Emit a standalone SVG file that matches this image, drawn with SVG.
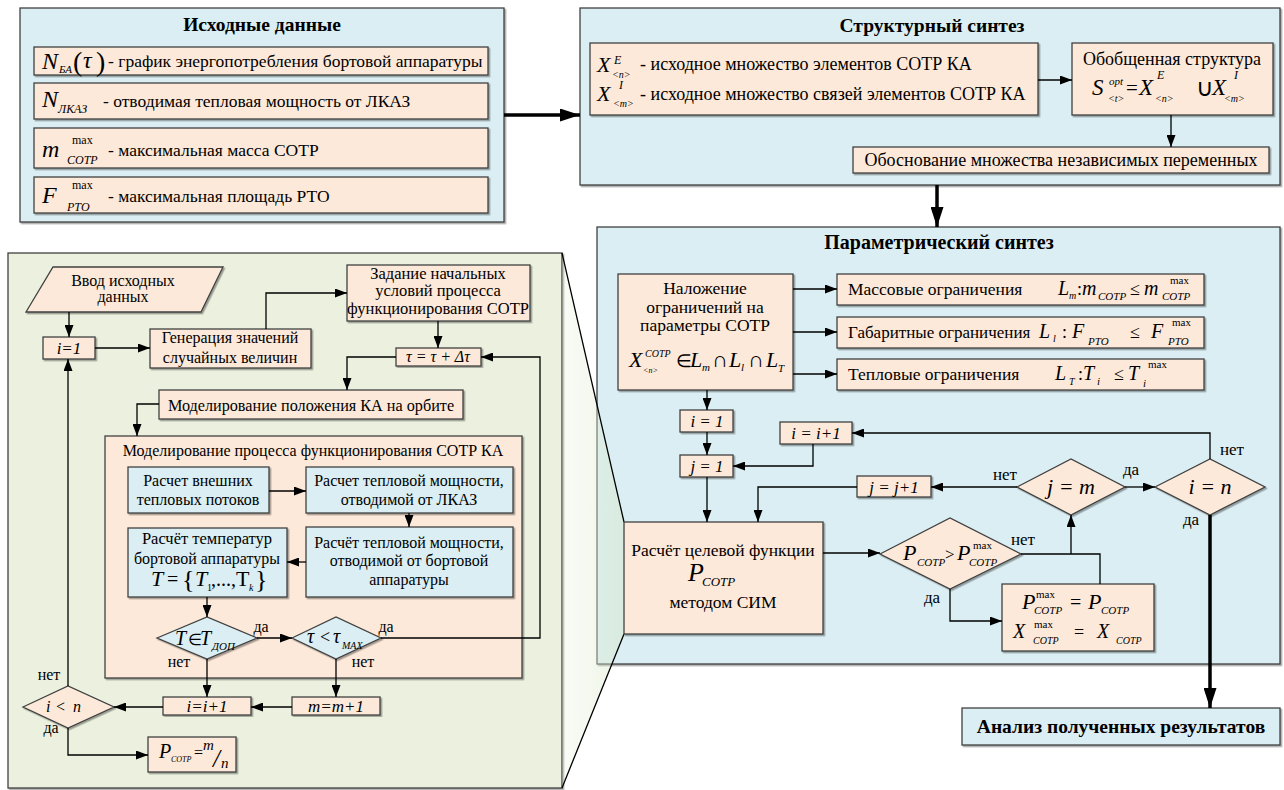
<svg xmlns="http://www.w3.org/2000/svg" width="1284" height="790" viewBox="0 0 1284 790" font-size="17">
<defs>
<style>
text{font-family:"Liberation Serif","Times New Roman",serif;fill:#000}
.c{text-anchor:middle}
.i{font-style:italic}
.b{font-weight:bold}
.bx{stroke:#404040;stroke-width:1.3;filter:url(#sh)}
.pe{fill:#FDE9D9}
.bl{fill:#DAEEF3}
.gr{fill:#EBF1DE}
.ln{fill:none;stroke:#000;stroke-width:1.3}
.ar{marker-end:url(#a)}
.th{fill:none;stroke:#000;stroke-width:3.5;marker-end:url(#A)}
</style>
<filter id="sh" x="-5%" y="-5%" width="110%" height="115%"><feDropShadow dx="1.5" dy="1.5" stdDeviation="0.7" flood-color="#000" flood-opacity="0.35"/></filter>
<marker id="a" markerWidth="12" markerHeight="9" refX="12" refY="4.5" orient="auto" markerUnits="userSpaceOnUse"><path d="M0,0L12,4.5L0,9z" fill="#000"/></marker>
<marker id="A" markerWidth="20" markerHeight="13" refX="20" refY="6.5" orient="auto" markerUnits="userSpaceOnUse"><path d="M0,0L20,6.5L0,13z" fill="#000"/></marker>
<linearGradient id="cg" x1="0" y1="0" x2="1" y2="0"><stop offset="0" stop-color="#EBF1DE" stop-opacity="0.3"/><stop offset="1" stop-color="#D8E8C8" stop-opacity="0.45"/></linearGradient>
</defs>

<!-- Исходные данные -->
<g id="src">
<rect class="bx bl" x="20" y="8" width="484" height="214"/>
<text class="c b" x="262" y="31" font-size="19.5">Исходные данные</text>
<rect class="bx pe" x="34" y="47" width="454" height="28"/>
<rect class="bx pe" x="34" y="83" width="454" height="36"/>
<rect class="bx pe" x="34" y="128" width="454" height="40"/>
<rect class="bx pe" x="34" y="177" width="454" height="36"/>
<text class="i" x="42" y="69" font-size="24">N</text>
<text class="i" x="59" y="73" font-size="11">БА</text>
<text x="73" y="71" font-size="28">(</text>
<text class="i" x="83" y="68" font-size="24">τ</text>
<text x="96" y="71" font-size="28">)</text>
<text x="108" y="67" font-size="17.5">- график энергопотребления бортовой аппаратуры</text>
<text class="i" x="42" y="107" font-size="24">N</text>
<text class="i" x="58" y="113" font-size="12">ЛКАЗ</text>
<text x="103" y="107" font-size="17.5">- отводимая тепловая мощность от ЛКАЗ</text>
<text class="i" x="42" y="157" font-size="24">m</text>
<text x="72" y="144" font-size="12">max</text>
<text class="i" x="67" y="164" font-size="12">СОТР</text>
<text x="108" y="156" font-size="17.5">- максимальная масса  СОТР</text>
<text class="i" x="42" y="203" font-size="24">F</text>
<text x="72" y="189" font-size="12">max</text>
<text class="i" x="67" y="211" font-size="12">РТО</text>
<text x="108" y="202" font-size="17.5">- максимальная площадь  РТО</text>
</g>

<!-- Структурный синтез -->
<g id="struct">
<rect class="bx bl" x="580" y="8" width="700" height="177"/>
<text class="c b" x="932" y="32" font-size="19.5">Структурный синтез</text>
</g>
<g id="sets">
<rect class="bx pe" x="590" y="43" width="448" height="72"/>
<text class="i" x="597" y="72" font-size="22">X</text>
<text class="i" x="614" y="64" font-size="12">E</text>
<text class="i" x="612" y="78" font-size="10">&lt;n&gt;</text>
<text x="640" y="70" font-size="18">- исходное множество элементов СОТР КА</text>
<text class="i" x="597" y="101" font-size="22">X</text>
<text class="i" x="619" y="89" font-size="12">I</text>
<text class="i" x="613" y="107" font-size="10">&lt;m&gt;</text>
<text x="640" y="100" font-size="18">- исходное множество связей элементов СОТР КА</text>
</g>
<g id="general">
<rect class="bx pe" x="1072" y="43" width="201" height="72"/>
<text class="c" x="1172" y="65" font-size="18">Обобщенная структура</text>
<text class="i" x="1092" y="95" font-size="23">S</text>
<text class="i" x="1109" y="85" font-size="11">opt</text>
<text class="i" x="1108" y="102" font-size="10">&lt;t&gt;</text>
<text x="1126" y="95" font-size="21">=</text>
<text class="i" x="1139" y="95" font-size="23">X</text>
<text class="i" x="1157" y="79" font-size="12">E</text>
<text class="i" x="1155" y="102" font-size="10">&lt;n&gt;</text>
<text x="1196" y="96" font-size="24">∪</text>
<text class="i" x="1212" y="95" font-size="23">X</text>
<text class="i" x="1234" y="79" font-size="12">I</text>
<text class="i" x="1224" y="102" font-size="10">&lt;m&gt;</text>
</g>
<g id="justify">
<rect class="bx pe" x="853" y="147" width="416" height="26"/>
<text class="c" x="1061" y="166" font-size="18">Обоснование множества независимых переменных</text>
</g>

<!-- Параметрический синтез -->
<g id="param">
<rect class="bx bl" x="597" y="227" width="683" height="437"/>
<text class="c b" x="939" y="249" font-size="20">Параметрический синтез</text>
</g>

<!-- Left green detail -->
<g id="detail">
<rect class="bx gr" x="8" y="253" width="554" height="535"/>
</g>

<!-- callout -->
<g id="callout">
<polygon points="562,253 624,522 624,634 562,788" fill="url(#cg)"/>
<path d="M562,253L624,522M624,634L562,788" stroke="#000" stroke-width="1.3" fill="none"/>
</g>

<g id="impose">
<rect class="bx pe" x="618" y="274" width="175" height="116"/>
<text class="c" x="705" y="294" font-size="17.5">Наложение</text>
<text class="c" x="705" y="313" font-size="17.5">ограничений на</text>
<text class="c" x="705" y="331" font-size="17.5">параметры СОТР</text>
<text class="i" x="629" y="367" font-size="22">X</text>
<text class="i" x="645" y="357" font-size="10">СОТР</text>
<text class="i" x="643" y="373" font-size="8">&lt;n&gt;</text>
<text x="676" y="367" font-size="18">∈</text>
<text class="i" x="690" y="367" font-size="22">L</text>
<text class="i" x="702" y="371" font-size="11">m</text>
<text x="712" y="367" font-size="22">∩</text>
<text class="i" x="729" y="367" font-size="22">L</text>
<text class="i" x="741" y="371" font-size="11">l</text>
<text x="748" y="367" font-size="22">∩</text>
<text class="i" x="766" y="367" font-size="22">L</text>
<text class="i" x="778" y="372" font-size="11">T</text>
</g>
<g id="mass">
<rect class="bx pe" x="837" y="274" width="367" height="31"/>
<text x="848" y="295" font-size="17.5">Массовые ограничения</text>
<text class="i" x="1058" y="295" font-size="20">L</text>
<text class="i" x="1069" y="299" font-size="10">m</text>
<text x="1077" y="295" font-size="18">:</text>
<text class="i" x="1082" y="295" font-size="20">m</text>
<text class="i" x="1098" y="300" font-size="11">СОТР</text>
<text x="1130" y="295" font-size="18">≤</text>
<text class="i" x="1144" y="295" font-size="20">m</text>
<text x="1170" y="284" font-size="11">max</text>
<text class="i" x="1162" y="300" font-size="11">СОТР</text>
</g>
<g id="size">
<rect class="bx pe" x="837" y="317" width="367" height="31"/>
<text x="848" y="338" font-size="17">Габаритные ограничения</text>
<text class="i" x="1039" y="338" font-size="20">L</text>
<text class="i" x="1053" y="342" font-size="10">l</text>
<text x="1062" y="338" font-size="18">:</text>
<text class="i" x="1072" y="338" font-size="20">F</text>
<text class="i" x="1088" y="345" font-size="11">РТО</text>
<text x="1130" y="338" font-size="18">≤</text>
<text class="i" x="1151" y="338" font-size="20">F</text>
<text x="1172" y="326" font-size="11">max</text>
<text class="i" x="1168" y="345" font-size="11">РТО</text>
</g>
<g id="heat">
<rect class="bx pe" x="837" y="359" width="367" height="31"/>
<text x="848" y="380" font-size="17.5">Тепловые ограничения</text>
<text class="i" x="1055" y="380" font-size="20">L</text>
<text class="i" x="1069" y="385" font-size="10">T</text>
<text x="1078" y="380" font-size="18">:</text>
<text class="i" x="1083" y="380" font-size="20">T</text>
<text class="i" x="1097" y="385" font-size="11">i</text>
<text x="1114" y="380" font-size="18">≤</text>
<text class="i" x="1128" y="380" font-size="20">T</text>
<text x="1148" y="368" font-size="11">max</text>
<text class="i" x="1143" y="387" font-size="11">i</text>
</g>
<g id="pi1"><rect class="bx pe" x="680" y="410" width="53" height="22"/><text class="c i" x="707" y="427">i = 1</text></g>
<g id="pj1"><rect class="bx pe" x="680" y="455" width="53" height="22"/><text class="c i" x="707" y="472">j = 1</text></g>
<g id="pii"><rect class="bx pe" x="780" y="422" width="72" height="22"/><text class="c i" x="816" y="439">i = i+1</text></g>
<g id="pjj"><rect class="bx pe" x="857" y="476" width="74" height="21"/><text class="c i" x="894" y="493">j = j+1</text></g>
<g id="calc">
<rect class="bx pe" x="624" y="522" width="199" height="112"/>
<text class="c" x="723" y="556" font-size="17.5">Расчёт целевой функции</text>
<text class="i" x="688" y="581" font-size="26">P</text>
<text class="i" x="702" y="586" font-size="13">СОТР</text>
<text class="c" x="723" y="608" font-size="17.5">методом СИМ</text>
</g>
<g id="dP">
<polygon class="bx pe" points="880,554 950,518 1021,554 950,589"/>
<text class="i" x="903" y="560" font-size="22">P</text>
<text class="i" x="917" y="566" font-size="11">СОТР</text>
<text x="945" y="560" font-size="17">&gt;</text>
<text class="i" x="957" y="560" font-size="22">P</text>
<text x="973" y="549" font-size="11">max</text>
<text class="i" x="969" y="566" font-size="11">СОТР</text>
</g>
<g id="dJ"><polygon class="bx pe" points="1017,487 1071,459 1125,487 1071,515"/><text class="c i" x="1071" y="494" font-size="22">j = m</text></g>
<g id="dI"><polygon class="bx pe" points="1155,487 1210,459 1265,487 1210,515"/><text class="c i" x="1210" y="494" font-size="22">i = n</text></g>
<g id="pmax">
<rect class="bx pe" x="1002" y="584" width="152" height="67"/>
<text class="i" x="1022" y="609" font-size="22">P</text>
<text x="1036" y="598" font-size="11">max</text>
<text class="i" x="1034" y="614" font-size="11">СОТР</text>
<text x="1070" y="609" font-size="20">=</text>
<text class="i" x="1088" y="609" font-size="22">P</text>
<text class="i" x="1101" y="614" font-size="11">СОТР</text>
<text class="i" x="1013" y="638" font-size="20">X</text>
<text x="1034" y="628" font-size="11">max</text>
<text class="i" x="1033" y="644" font-size="10">СОТР</text>
<text x="1074" y="638" font-size="18">=</text>
<text class="i" x="1097" y="638" font-size="20">X</text>
<text class="i" x="1116" y="644" font-size="10">СОТР</text>
</g>
<g id="result">
<rect class="bx bl" x="962" y="708" width="318" height="37"/>
<text class="c b" x="1121" y="733" font-size="19.5">Анализ полученных результатов</text>
</g>

<!-- green detail nodes -->
<g id="input"><polygon class="bx pe" points="53,267 223,267 201,312 26,312"/><text class="c" x="123" y="286" font-size="16">Ввод исходных</text><text class="c" x="123" y="302" font-size="16">данных</text></g>
<g id="gi1"><rect class="bx pe" x="43" y="337" width="52" height="22"/><text class="c i" x="69" y="354">i=1</text></g>
<g id="gen"><rect class="bx pe" x="150" y="329" width="161" height="39"/><text class="c" x="230" y="343" font-size="16">Генерация значений</text><text class="c" x="230" y="363" font-size="16">случайных величин</text></g>
<g id="init"><rect class="bx pe" x="347" y="265" width="183" height="56"/><text class="c" x="438" y="279" font-size="16.5">Задание начальных</text><text class="c" x="438" y="296" font-size="16.5">условий процесса</text><text class="c" x="438" y="314" font-size="16.5">функционирования СОТР</text></g>
<g id="tau"><rect class="bx pe" x="396" y="348" width="85" height="18"/><text class="c i" x="438" y="362" font-size="16">τ = τ + Δτ</text></g>
<g id="orbit"><rect class="bx pe" x="159" y="390" width="304" height="29"/><text class="c" x="311" y="411" font-size="16.2">Моделирование положения КА на орбите</text></g>
<g id="proc"><rect class="bx pe" x="105" y="436" width="417" height="242"/><text class="c" x="313" y="456" font-size="16">Моделирование процесса функционирования СОТР КА</text></g>
<g id="ext"><rect class="bx bl" x="128" y="467" width="141" height="46"/><text class="c" x="198" y="486" font-size="16">Расчет внешних</text><text class="c" x="198" y="505" font-size="16">тепловых потоков</text></g>
<g id="lkaz"><rect class="bx bl" x="306" y="467" width="207" height="46"/><text class="c" x="409" y="486" font-size="16">Расчет тепловой мощности,</text><text class="c" x="409" y="505" font-size="16">отводимой от ЛКАЗ</text></g>
<g id="board"><rect class="bx bl" x="306" y="527" width="207" height="70"/><text class="c" x="409" y="548" font-size="16">Расчёт тепловой мощности,</text><text class="c" x="409" y="566" font-size="16">отводимой от бортовой</text><text class="c" x="409" y="585" font-size="16">аппаратуры</text></g>
<g id="temp"><rect class="bx bl" x="128" y="528" width="159" height="69"/><text class="c" x="207" y="544" font-size="16.5">Расчёт температур</text><text class="c" x="207" y="564" font-size="16">бортовой аппаратуры</text>
<text class="i" x="151" y="586" font-size="22">T</text>
<text x="167" y="586" font-size="20">=</text>
<text x="182" y="588" font-size="26">{</text>
<text class="i" x="195" y="586" font-size="22">T</text>
<text x="207" y="591" font-size="10">1</text>
<text x="211" y="586" font-size="20">,...,</text>
<text x="236" y="586" font-size="22">T</text>
<text class="i" x="249" y="591" font-size="10">k</text>
<text x="255" y="588" font-size="26">}</text>
</g>
<g id="dT"><polygon class="bx bl" points="157,638 207,617 257,638 207,659"/>
<text class="i" x="175" y="645" font-size="20">T</text>
<text x="188" y="645" font-size="16">∈</text>
<text class="i" x="200" y="645" font-size="20">T</text>
<text class="i" x="212" y="650" font-size="11">ДОП</text>
</g>
<g id="dTau"><polygon class="bx bl" points="292,638 336,617 381,638 336,659"/>
<text class="i" x="307" y="643" font-size="20">τ</text>
<text x="320" y="643" font-size="18">&lt;</text>
<text class="i" x="333" y="643" font-size="20">τ</text>
<text class="i" x="342" y="649" font-size="10">MAX</text>
</g>
<g id="gii"><rect class="bx pe" x="163" y="697" width="88" height="18"/><text class="c i" x="207" y="712">i=i+1</text></g>
<g id="gmm"><rect class="bx pe" x="292" y="697" width="88" height="18"/><text class="c i" x="336" y="712">m=m+1</text></g>
<g id="dN"><polygon class="bx pe" points="23,707 68,686 114,707 68,728"/><text class="i" x="46" y="712" font-size="16">i</text><text x="56" y="712" font-size="16">&lt;</text><text class="i" x="73" y="712" font-size="16">n</text></g>
<g id="pres"><rect class="bx pe" x="148" y="737" width="88" height="35"/>
<text class="i" x="159" y="758" font-size="20">P</text>
<text class="i" x="171" y="762" font-size="8">СОТР</text>
<text x="194" y="758" font-size="16">=</text>
<text class="i" x="203" y="750" font-size="15">m</text>
<text class="i" x="213" y="767" font-size="25">/</text>
<text class="i" x="221" y="768" font-size="15">n</text>
</g>

<!-- connectors -->
<g id="connectors">
<path class="th" d="M504,115H580"/>
<path class="th" d="M937,185V227"/>
<path class="th" d="M1210,515V708"/>
<path class="ln ar" d="M1038,80H1072"/>
<path class="ln ar" d="M1171,115V147"/>
<path class="ln ar" d="M793,289H837"/>
<path class="ln ar" d="M793,332H837"/>
<path class="ln ar" d="M793,374H837"/>
<path class="ln ar" d="M707,390V410"/>
<path class="ln ar" d="M707,432V455"/>
<path class="ln ar" d="M813,444V466H733"/>
<path class="ln ar" d="M857,487H758V522"/>
<path class="ln ar" d="M707,477V522"/>
<path class="ln ar" d="M823,553H880"/>
<path class="ln ar" d="M1017,487H931"/>
<path class="ln ar" d="M1125,487H1155"/>
<path class="ln ar" d="M1210,459V433H852"/>
<path class="ln" d="M1021,554H1100V584"/>
<path class="ln ar" d="M1071,554V515"/>
<path class="ln ar" d="M950,589V621H1002"/>
<path class="ln ar" d="M69,312V337"/>
<path class="ln ar" d="M95,348H150"/>
<path class="ln ar" d="M266,329V293H347"/>
<path class="ln ar" d="M438,321V348"/>
<path class="ln ar" d="M396,357H347V390"/>
<path class="ln ar" d="M159,404H137V436"/>
<path class="ln ar" d="M269,491H306"/>
<path class="ln ar" d="M409,513V527"/>
<path class="ln ar" d="M306,562H287"/>
<path class="ln ar" d="M207,597V617"/>
<path class="ln ar" d="M257,638H292"/>
<path class="ln ar" d="M381,638H540V357H481"/>
<path class="ln ar" d="M207,659V697"/>
<path class="ln ar" d="M336,659V697"/>
<path class="ln ar" d="M292,707H251"/>
<path class="ln ar" d="M163,707H114"/>
<path class="ln ar" d="M68,686V359"/>
<path class="ln ar" d="M68,728V755H148"/>
</g>

<g id="labels">
<text class="c" x="1005" y="480">нет</text>
<text class="c" x="1131" y="475">да</text>
<text class="c" x="1232" y="455">нет</text>
<text class="c" x="1191" y="525">да</text>
<text class="c" x="1023" y="545">нет</text>
<text class="c" x="932" y="603">да</text>
<text class="c" x="261" y="632" font-size="16">да</text>
<text class="c" x="386" y="632" font-size="16">да</text>
<text class="c" x="179" y="667" font-size="16">нет</text>
<text class="c" x="363" y="667" font-size="16">нет</text>
<text class="c" x="49" y="680" font-size="16">нет</text>
<text class="c" x="51" y="733" font-size="16">да</text>
</g>
</svg>
